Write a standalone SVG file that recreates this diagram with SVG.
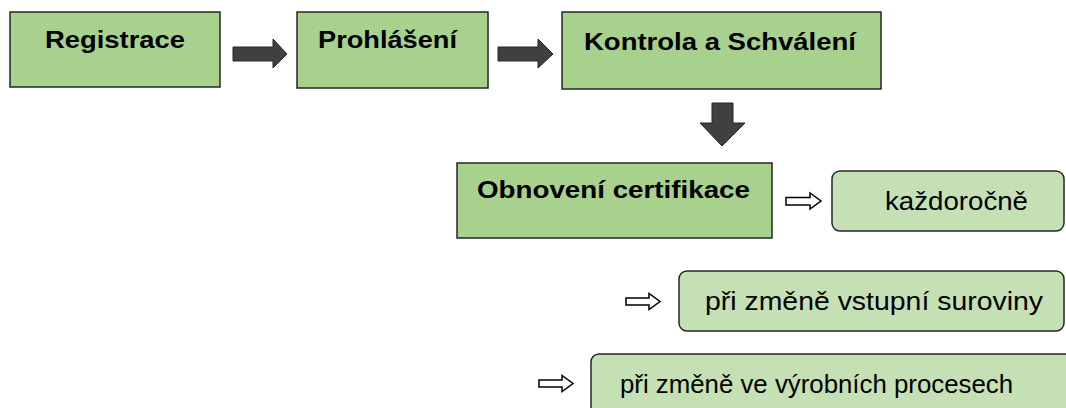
<svg xmlns="http://www.w3.org/2000/svg" width="1066" height="408" viewBox="0 0 1066 408">
<style>
.main{fill:#a9d18e;stroke:#262626;stroke-width:1.5}
.sub{fill:#c5e0b4;stroke:#262626;stroke-width:1.5}
.bt{font-family:"Liberation Sans",Arial,sans-serif;font-weight:bold;font-size:24.5px;fill:#000}
.rt{font-family:"Liberation Sans",Arial,sans-serif;font-size:26px;fill:#000}
.fa{fill:#404040;stroke:#262626;stroke-width:1}
.ha{fill:#fff;stroke:#000;stroke-width:1.5}
</style>
<rect width="1066" height="408" fill="#fff"/>
<g id="n1"><rect class="main" x="10" y="12" width="210" height="75"/><text class="bt" x="45" y="48" textLength="140" lengthAdjust="spacingAndGlyphs">Registrace</text></g>
<g id="n2"><rect class="main" x="297" y="12" width="191" height="76"/><text class="bt" x="318" y="48" textLength="139" lengthAdjust="spacingAndGlyphs">Prohlášení</text></g>
<g id="n3"><rect class="main" x="562" y="12" width="319" height="77"/><text class="bt" x="584" y="50" textLength="272" lengthAdjust="spacingAndGlyphs">Kontrola a Schválení</text></g>
<g id="n4"><rect class="main" x="457" y="163" width="315" height="75"/><text class="bt" x="477" y="198" textLength="273" lengthAdjust="spacingAndGlyphs">Obnovení certifikace</text></g>
<g id="n5"><rect class="sub" x="832" y="171" width="232" height="60" rx="8"/><text class="rt" x="885" y="210" textLength="143" lengthAdjust="spacingAndGlyphs">každoročně</text></g>
<g id="n6"><rect class="sub" x="679" y="271" width="385" height="60" rx="8"/><text class="rt" x="705" y="310" textLength="338" lengthAdjust="spacingAndGlyphs">při změně vstupní suroviny</text></g>
<g id="n7"><rect class="sub" x="591" y="354" width="490" height="70" rx="8"/><text class="rt" x="620" y="393" textLength="393" lengthAdjust="spacingAndGlyphs">při změně ve výrobních procesech</text></g>
<g id="connectors">
<polygon class="fa" points="233,47 273,47 273,39 287,54 273,68 273,61 233,61"/>
<polygon class="fa" points="498,47 538,47 538,39 553,54 538,68 538,61 498,61"/>
<polygon class="fa" points="712,103 733,103 733,123 745,123 722,146 700,123 712,123"/>
<polygon class="ha" points="786,197.5 810,197.5 810,193 821,201 810,209 810,205 786,205"/>
<polygon class="ha" points="626,298 649,298 649,293.5 660,301.5 649,309.5 649,305 626,305"/>
<polygon class="ha" points="539,380 562,380 562,375.5 573,383.5 562,391.5 562,387 539,387"/>
</g>
</svg>
